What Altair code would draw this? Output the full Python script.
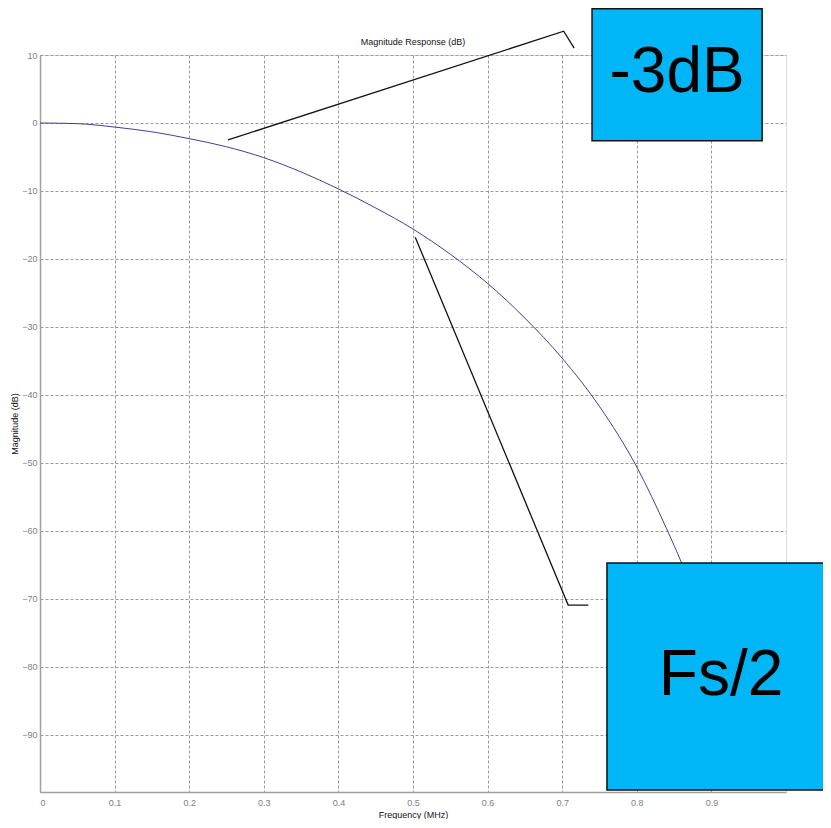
import altair as alt
import pandas as pd

# Magnitude response curve
freq = [0.0, 0.05, 0.1, 0.15, 0.2, 0.25, 0.3, 0.35, 0.4, 0.45, 0.5, 0.55, 0.6, 0.65, 0.7, 0.75, 0.8, 0.84, 0.86, 0.88]
mag = [0.0, -0.1, -0.6, -1.3, -2.3, -3.5, -5.1, -7.2, -9.7, -12.5, -15.6, -19.3, -23.6, -28.7, -34.6, -41.7, -50.6, -59.7, -64.7, -70.5]

x_ticks = [0, 0.1, 0.2, 0.3, 0.4, 0.5, 0.6, 0.7, 0.8, 0.9]
y_ticks = [10, 0, -10, -20, -30, -40, -50, -60, -70, -80, -90]

# Callout leader lines
lead_name = ["-3dB", "-3dB", "-3dB", "Fs/2", "Fs/2", "Fs/2"]
lead_f = [0.252, 0.702, 0.716, 0.503, 0.708, 0.735]
lead_m = [-2.5, 13.5, 11.0, -16.8, -70.9, -70.9]
lead_ord = [0, 1, 2, 0, 1, 2]

# Callout boxes
box_label = ["-3dB", "Fs/2"]
box_f1 = [0.740, 0.760]
box_f2 = [0.968, 1.06]
box_m1 = [16.8, -64.7]
box_m2 = [-2.6, -98.1]
text_f = [0.854, 0.913]
text_m = [7.3, -81.4]

# Chart title text
chart_title = ["Magnitude Response (dB)"]

FONT = "Liberation Sans"

curve_df = pd.DataFrame({"f": freq, "m": mag})
lead_df = pd.DataFrame({"name": lead_name, "f": lead_f, "m": lead_m, "o": lead_ord})
box_df = pd.DataFrame({"label": box_label, "f1": box_f1, "f2": box_f2, "m1": box_m1, "m2": box_m2,
                       "tf": text_f, "tm": text_m})
title_df = pd.DataFrame({"t": chart_title})

xscale = alt.Scale(domain=[0, 1], nice=False, zero=False)
yscale = alt.Scale(domain=[-98.4, 10], nice=False, zero=False)

xaxis = alt.Axis(values=x_ticks, title="Frequency (MHz)", grid=True, gridDash=[3, 2],
                 gridColor="#9a9a9a", gridWidth=1, ticks=False, domainColor="#a0a0a0", domainWidth=1.5,
                 labelColor="#808080", labelFontSize=9, labelFont=FONT, labelPadding=6,
                 titleFont=FONT, titleFontSize=9, titleFontWeight="normal", titleColor="#111",
                 titlePadding=3, labelExpr="datum.value == 0 ? '0' : format(datum.value, '.1f')")
yaxis = alt.Axis(values=y_ticks, title="Magnitude (dB)", grid=True, gridDash=[3, 2],
                 gridColor="#9a9a9a", gridWidth=1, ticks=False, domainColor="#a0a0a0", domainWidth=1.5,
                 labelColor="#808080", labelFontSize=9, labelFont=FONT, labelPadding=3,
                 titleFont=FONT, titleFontSize=9, titleFontWeight="normal", titleColor="#111",
                 titlePadding=2)

curve = alt.Chart(curve_df).mark_line(color="#3f3f9c", strokeWidth=1, interpolate="monotone").encode(
    x=alt.X("f:Q", scale=xscale, axis=xaxis),
    y=alt.Y("m:Q", scale=yscale, axis=yaxis),
)

title_mark = alt.Chart(title_df).mark_text(font=FONT, fontSize=9, color="#111111", align="center",
                                           baseline="bottom", dy=-8, clip=False).encode(
    x=alt.datum(0.5, scale=xscale),
    y=alt.datum(10, scale=yscale),
    text="t:N",
)

leads = alt.Chart(lead_df).mark_line(color="#111111", strokeWidth=1.3, clip=False).encode(
    x=alt.X("f:Q", scale=xscale),
    y=alt.Y("m:Q", scale=yscale),
    detail="name:N",
    order="o:Q",
)

boxes = alt.Chart(box_df).mark_rect(fill="#00b6f7", stroke="#111111", strokeWidth=1.5, clip=False).encode(
    x=alt.X("f1:Q", scale=xscale),
    x2="f2:Q",
    y=alt.Y("m1:Q", scale=yscale),
    y2="m2:Q",
)

texts = alt.Chart(box_df).mark_text(font=FONT, fontSize=64, color="#000000", align="center",
                                    baseline="middle", clip=False).encode(
    x=alt.X("tf:Q", scale=xscale),
    y=alt.Y("tm:Q", scale=yscale),
    text="label:N",
)

chart = alt.layer(curve, title_mark, leads, boxes, texts).properties(
    width=746,
    height=737,
    autosize=alt.AutoSizeParams(type="none"),
    padding={"left": 32, "top": 47, "right": 37, "bottom": 27},
).configure_view(stroke="#a0a0a0", strokeWidth=1.5).configure(background="white")

chart.save("out.html", embed_options={"renderer": "svg", "actions": False})
